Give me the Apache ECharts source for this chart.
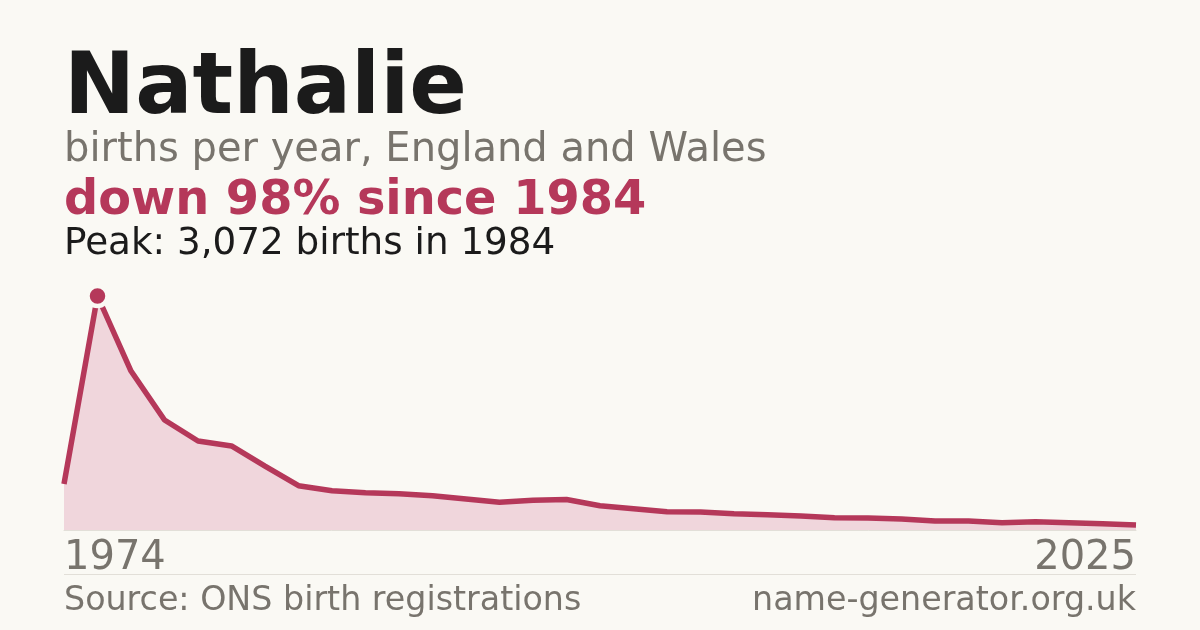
<!DOCTYPE html>
<html>
<head>
<meta charset="utf-8">
<script src="https://cdn.jsdelivr.net/npm/echarts@6/dist/echarts.min.js"></script>
<style>
  html, body { margin: 0; padding: 0; background: #faf9f4; }
  #chart { width: 1200px; height: 630px; }
</style>
</head>
<body>
<div id="chart"></div>
<script>
// years in the ONS series (decade points, then annual from 1996)
var years = ['1974', '1984', '1994',
  '1996', '1997', '1998', '1999', '2000', '2001', '2002', '2003', '2004', '2005',
  '2006', '2007', '2008', '2009', '2010', '2011', '2012', '2013', '2014', '2015',
  '2016', '2017', '2018', '2019', '2020', '2021', '2022', '2023', '2024', '2025'];

// births per year
var births = [604, 3072, 2087,
  1444, 1168, 1103, 840, 582, 516, 490, 477, 450, 407,
  364, 390, 400, 319, 280, 240, 236, 214, 201, 184,
  161, 158, 144, 118, 118, 96, 109, 96, 83, 66];

var babyName = 'Nathalie';
var subtitle = 'births per year, England and Wales';
var sourceText = 'Source: ONS birth registrations';
var siteText = 'name-generator.org.uk';

var peakVal = Math.max.apply(null, births);
var peakIdx = births.indexOf(peakVal);
var peakYear = years[peakIdx];
var lastVal = births[births.length - 1];
var dropPct = Math.round((1 - lastVal / peakVal) * 100);

var crimson = '#b5385a';
var grey = '#78746d';
var bg = '#faf9f4';

var chart = echarts.init(document.getElementById('chart'));

var option = {
    backgroundColor: bg,
    animation: false,
    textStyle: { fontFamily: 'DejaVu Sans' },
    grid: { left: 64, right: 64, top: 296, bottom: 100 },
    xAxis: {
        type: 'category',
        data: years,
        boundaryGap: false,
        axisLine: { show: true, lineStyle: { color: '#e2dfd8', width: 1 } },
        axisTick: { show: false },
        splitLine: { show: false },
        axisLabel: {
            interval: function (i) { return i === 0 || i === years.length - 1; },
            color: grey,
            fontSize: 40,
            lineHeight: 40,
            margin: 9,
            alignMinLabel: 'left',
            alignMaxLabel: 'right'
        }
    },
    yAxis: {
        type: 'value',
        min: 0,
        max: peakVal,
        show: false,
        splitLine: { show: false }
    },
    series: [
        {
            type: 'line',
            data: births,
            showSymbol: false,
            clip: false,
            lineStyle: { color: crimson, width: 5.5 },
            areaStyle: { color: '#f0d6dc', opacity: 1 },
            z: 2
        },
        {
            // peak marker
            type: 'scatter',
            data: [[peakYear, peakVal]],
            symbol: 'circle',
            symbolSize: 20,
            clip: false,
            itemStyle: { color: crimson, opacity: 1, borderColor: bg, borderWidth: 4.5 },
            z: 5
        }
    ],
    graphic: [
        { type: 'text', left: 64, top: 48, style: { text: babyName, fill: '#1b1b1b', font: 'bold 85px "DejaVu Sans"' } },
        { type: 'text', left: 64, top: 131, style: { text: subtitle, fill: grey, font: '40px "DejaVu Sans"' } },
        { type: 'text', left: 64, top: 178, style: { text: 'down ' + dropPct + '% since ' + peakYear, fill: crimson, font: 'bold 47.8px "DejaVu Sans"' } },
        { type: 'text', left: 64, top: 226, style: { text: 'Peak: ' + peakVal.toLocaleString('en-GB') + ' births in ' + peakYear, fill: '#1b1b1b', font: '37.3px "DejaVu Sans"' } },
        { type: 'line', shape: { x1: 64, y1: 574.5, x2: 1136, y2: 574.5 }, style: { stroke: '#e2dfd8', lineWidth: 1 } },
        { type: 'text', left: 64, top: 585, style: { text: sourceText, fill: grey, font: '33.3px "DejaVu Sans"' } },
        { type: 'text', right: 64, top: 585, style: { text: siteText, fill: grey, font: '33.3px "DejaVu Sans"' } }
    ]
};

chart.setOption(option);
</script>
</body>
</html>
